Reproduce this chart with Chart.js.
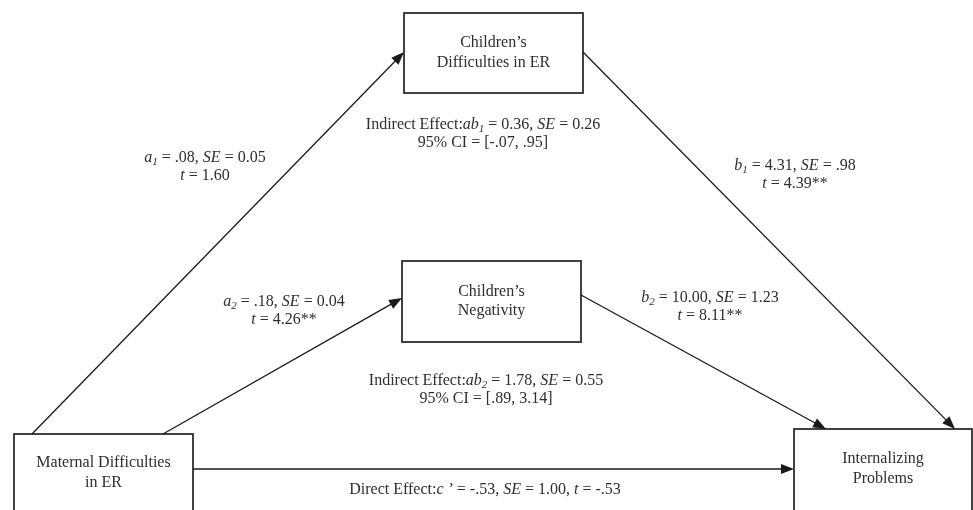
<!DOCTYPE html>
<html>
<head>
<meta charset="utf-8">
<script src="https://cdn.jsdelivr.net/npm/chart.js@4.4.1/dist/chart.umd.min.js"></script>
<style>
  html, body { margin: 0; padding: 0; background: #ffffff; }
  canvas { display: block; }
</style>
</head>
<body>
<canvas id="chart" width="973" height="510"></canvas>
<script>
// ---- Model variables ----
const nodeNames = [
  "Maternal Difficulties\nin ER",
  "Children\u2019s\nDifficulties in ER",
  "Children\u2019s\nNegativity",
  "Internalizing\nProblems"
];

// ---- Direct paths (from -> to) with their estimates ----
const pathFrom   = [0, 0, 1, 2, 0];
const pathTo     = [1, 2, 3, 3, 3];
const pathSymbol = ["a", "a", "b", "b", "c"];
const pathIndex  = ["1", "2", "1", "2", ""];
const pathEst    = [".08", ".18", "4.31", "10.00", "-.53"];
const pathSE     = ["0.05", "0.04", ".98", "1.23", "1.00"];
const pathT      = ["1.60", "4.26**", "4.39**", "8.11**", "-.53"];

// ---- Indirect effects through each mediator ----
const indirectIndex = ["1", "2"];
const indirectEst   = ["0.36", "1.78"];
const indirectSE    = ["0.26", "0.55"];
const indirectCI    = ["[-.07, .95]", "[.89, 3.14]"];

// ---- Layout (diagram units, 0..973 across, 0..510 down) ----
const boxRects = [
  { x0: 14,  y0: 434, x1: 193, y1: 512 },
  { x0: 404, y0: 13,  x1: 583, y1: 93  },
  { x0: 402, y0: 261, x1: 581, y1: 342 },
  { x0: 794, y0: 429, x1: 972, y1: 512 }
];
const boxTextY = [[463, 483], [43, 63], [292, 311], [459, 479]];
const pathEnds = [
  { x0: 32,  y0: 434, x1: 404, y1: 52  },
  { x0: 163, y0: 434, x1: 402, y1: 298 },
  { x0: 583, y0: 52,  x1: 955, y1: 429 },
  { x0: 581, y0: 295, x1: 826, y1: 429 },
  { x0: 193, y0: 469, x1: 794, y1: 469 }
];
const pathLabelPos = [
  { x: 205, y: 158 }, { x: 284, y: 302 },
  { x: 795, y: 166 }, { x: 710, y: 298 },
  { x: 485, y: 490 }
];
const indirectLabelPos = [{ x: 483, y: 125 }, { x: 486, y: 381 }];
const LINE_GAP = 18;

const FONT_FAMILY = '"Liberation Serif", "DejaVu Serif", serif';
const FONT_SIZE = 16;
const SUB_SIZE = 11;
const TEXT_COLOR = "#2e2e2e";
const LINE_COLOR = "#1a1a1a";

// Node centres as chart points
const nodePoints = boxRects.map(r => ({ x: (r.x0 + r.x1) / 2, y: (r.y0 + r.y1) / 2 }));

// ---- Rich text helpers (italic / subscript runs) ----
function runFont(seg) {
  const size = seg.sub ? SUB_SIZE : FONT_SIZE;
  return (seg.it ? "italic " : "") + size + "px " + FONT_FAMILY;
}
function drawRich(ctx, segs, cx, cy) {
  let total = 0;
  segs.forEach(s => { ctx.font = runFont(s); s.w = ctx.measureText(s.t).width; total += s.w; });
  let x = cx - total / 2;
  ctx.textBaseline = "middle";
  ctx.textAlign = "left";
  segs.forEach(s => {
    ctx.font = runFont(s);
    ctx.fillText(s.t, x, cy + (s.sub ? 4 : 0));
    x += s.w;
  });
}
function symbolRuns(sym, idx, prime) {
  const r = [{ t: sym, it: true }];
  if (idx) r.push({ t: idx, it: true, sub: true });
  if (prime) r.push({ t: " \u2019", it: true });
  return r;
}

const diagramPlugin = {
  id: "pathDiagram",
  afterDraw(chart) {
    const ctx = chart.ctx;
    const sx = chart.scales.x, sy = chart.scales.y;
    const px = v => sx.getPixelForValue(v);
    const py = v => sy.getPixelForValue(v);
    ctx.save();

    // Boxes
    ctx.strokeStyle = "#2e2e2e";
    ctx.lineWidth = 1.8;
    boxRects.forEach(r => {
      ctx.strokeRect(px(r.x0), py(r.y0), px(r.x1) - px(r.x0), py(r.y1) - py(r.y0));
    });

    // Box labels
    ctx.fillStyle = TEXT_COLOR;
    ctx.font = FONT_SIZE + "px " + FONT_FAMILY;
    ctx.textAlign = "center";
    ctx.textBaseline = "middle";
    nodeNames.forEach((name, i) => {
      const cx = px(nodePoints[i].x);
      name.split("\n").forEach((line, k) => ctx.fillText(line, cx, py(boxTextY[i][k])));
    });

    // Arrows
    ctx.strokeStyle = LINE_COLOR;
    ctx.fillStyle = LINE_COLOR;
    ctx.lineWidth = 1.3;
    pathEnds.forEach(e => {
      const x0 = px(e.x0), y0 = py(e.y0), x1 = px(e.x1), y1 = py(e.y1);
      const ang = Math.atan2(y1 - y0, x1 - x0);
      const L = 13, W = 5;
      ctx.beginPath();
      ctx.moveTo(x0, y0);
      ctx.lineTo(x1 - Math.cos(ang) * L * 0.8, y1 - Math.sin(ang) * L * 0.8);
      ctx.stroke();
      ctx.beginPath();
      ctx.moveTo(x1, y1);
      ctx.lineTo(x1 - Math.cos(ang) * L - Math.sin(ang) * W, y1 - Math.sin(ang) * L + Math.cos(ang) * W);
      ctx.lineTo(x1 - Math.cos(ang) * L + Math.sin(ang) * W, y1 - Math.sin(ang) * L - Math.cos(ang) * W);
      ctx.closePath();
      ctx.fill();
    });

    // Path coefficient labels
    ctx.fillStyle = TEXT_COLOR;
    pathSymbol.forEach((sym, i) => {
      const p = pathLabelPos[i];
      const isDirect = pathFrom[i] === 0 && pathTo[i] === 3;
      if (isDirect) {
        const runs = [{ t: "Direct Effect:" }]
          .concat(symbolRuns(sym, pathIndex[i], true))
          .concat([{ t: " = " + pathEst[i] + ", " }, { t: "SE", it: true },
                   { t: " = " + pathSE[i] + ", " }, { t: "t", it: true },
                   { t: " = " + pathT[i] }]);
        drawRich(ctx, runs, px(p.x), py(p.y));
      } else {
        const runs = symbolRuns(sym, pathIndex[i], false)
          .concat([{ t: " = " + pathEst[i] + ", " }, { t: "SE", it: true }, { t: " = " + pathSE[i] }]);
        drawRich(ctx, runs, px(p.x), py(p.y));
        drawRich(ctx, [{ t: "t", it: true }, { t: " = " + pathT[i] }], px(p.x), py(p.y + LINE_GAP));
      }
    });

    // Indirect effect labels
    indirectIndex.forEach((idx, i) => {
      const p = indirectLabelPos[i];
      const runs = [{ t: "Indirect Effect:" }, { t: "ab", it: true }, { t: idx, it: true, sub: true },
                    { t: " = " + indirectEst[i] + ", " }, { t: "SE", it: true },
                    { t: " = " + indirectSE[i] }];
      drawRich(ctx, runs, px(p.x), py(p.y));
      drawRich(ctx, [{ t: "95% CI = " + indirectCI[i] }], px(p.x), py(p.y + LINE_GAP));
    });

    ctx.restore();
  }
};

new Chart(document.getElementById("chart"), {
  type: "scatter",
  data: {
    datasets: [{ data: nodePoints, pointRadius: 0, pointHoverRadius: 0, showLine: false }]
  },
  options: {
    responsive: false,
    animation: false,
    devicePixelRatio: 1,
    layout: { padding: 0 },
    events: [],
    scales: {
      x: { type: "linear", min: 0, max: 973, display: false },
      y: { type: "linear", min: 0, max: 510, reverse: true, display: false }
    },
    plugins: { legend: { display: false }, tooltip: { enabled: false } }
  },
  plugins: [diagramPlugin]
});
</script>
</body>
</html>
